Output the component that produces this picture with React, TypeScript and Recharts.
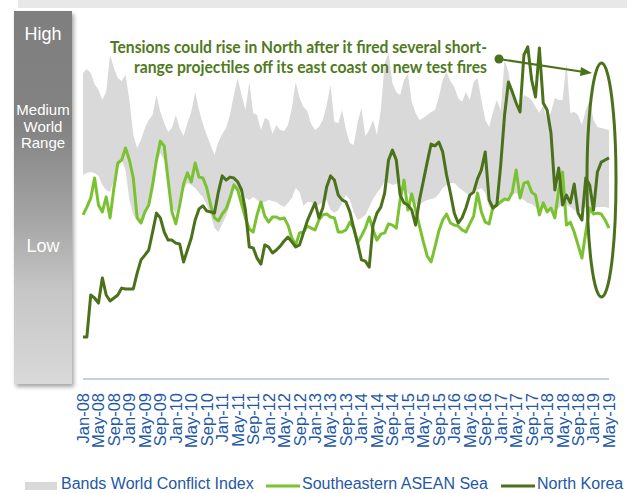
import React from 'react';
import { ComposedChart, Area, Line, XAxis, YAxis } from 'recharts';

// x axis categories: monthly, Jan-08 .. May-19
const MONTHS = ['Jan', 'Feb', 'Mar', 'Apr', 'May', 'Jun', 'Jul', 'Aug', 'Sep', 'Oct', 'Nov', 'Dec'];
const YEARS = ['08', '09', '10', '11', '12', '13', '14', '15', '16', '17', '18', '19'];
const MONTHS_IN_LAST_YEAR = 5;

// world conflict index band (lower / upper edge), one row per year
const bandLow = [
  68, 68.7, 69, 68.7, 67.7, 64.7, 63, 62.3, 66.3, 70.3, 73, 69.7,
  59.7, 54.7, 53, 52, 55.7, 58, 63, 71.3, 75.3, 73, 64, 57.3,
  55.3, 59.7, 63, 65.3, 64.7, 63.7, 62, 60.7, 58, 54.7, 50.3, 49,
  51.7, 54.3, 58, 64, 63, 62, 60.3, 59.7, 60.7, 59.7, 58.7, 59,
  59.7, 59.3, 59, 58, 57.3, 58.7, 60.3, 63.7, 62.3, 57.7, 59, 59,
  57.7, 58, 59, 59.7, 56.3, 55.3, 56.3, 58.7, 61.3, 59.7, 55.7, 53,
  53.7, 54.7, 57.3, 60, 62, 63.7, 66, 65.3, 64.7, 65, 65.7, 64.3,
  62, 59.7, 58.3, 58, 59, 59.7, 60, 60.3, 61.7, 63.7, 64.7, 65.3,
  65.3, 64, 63, 62, 61.3, 62, 63, 63.7, 62, 57.3, 56.3, 57.3,
  59, 59.7, 60.7, 61.3, 62, 60.7, 59.7, 58.7, 58.3, 57.3, 55.7, 57,
  56.7, 56.3, 55.3, 57, 58.3, 58, 57.3, 56.3, 55.3, 56.3, 57.3, 56.3,
  57, 57.3, 57.3, 57.3, 57,
];

const bandHigh = [
  102, 103.3, 102, 98.3, 96.3, 93, 95.7, 108, 103.7, 100.3, 99.3, 101.3,
  93, 81.3, 77, 79.7, 83.7, 86.3, 88, 94.7, 89, 85.3, 82.3, 83.7,
  88, 83.7, 81, 85.3, 89, 95.7, 89.7, 85, 81.3, 78, 74.7, 79,
  81.7, 83.7, 88, 94.7, 100.3, 94.7, 89.7, 99, 88.7, 88, 83, 87,
  86.3, 81.7, 84.7, 83, 82.7, 84.7, 90.3, 99, 93.7, 90.7, 89.3, 85,
  83, 84, 86.3, 91.3, 98, 85.7, 85.3, 89.7, 83, 78.7, 78, 85.7,
  90.3, 81, 83, 86.3, 81.3, 89.7, 105.3, 108.7, 98.7, 95.7, 94.7, 99.7,
  101.7, 92.3, 88.7, 86.3, 87, 88, 89, 89.7, 94, 99.7, 102.3, 99.3,
  97.3, 93.7, 92.3, 95.7, 93, 99, 100.3, 93, 86.3, 84, 89, 93,
  89.7, 106.3, 102.3, 94.7, 91.3, 89, 94.7, 94, 93, 90.7, 88.7, 91.3,
  86.3, 89, 93.7, 93, 93, 105.7, 88.7, 89, 88, 84.7, 89.7, 93,
  86.3, 84, 83.7, 83.3, 83,
];

const asean = [
  54.7, 57.3, 60.3, 67, 58, 55.7, 60.7, 53.7, 63.7, 72, 73, 77,
  73, 67, 53.7, 52, 55.7, 58, 64.7, 73, 79.3, 77.7, 66.3, 55.7,
  51.7, 58, 65, 68.7, 65.7, 72, 67.3, 67, 63.7, 58, 53.7, 52.7,
  55, 56.7, 60.3, 64.7, 63, 58.3, 53.7, 50, 49, 54.7, 59, 54.3,
  52.3, 54, 54, 53.3, 53.7, 51.3, 47, 44.7, 48.7, 49, 51, 50.3,
  49.7, 53, 54.7, 55, 54, 53.7, 49, 49, 49.7, 52.3, 50.3, 45.3,
  47.7, 50.3, 54, 49.7, 46.3, 48.3, 48.7, 51.7, 51.3, 50.3, 59.7, 66.3,
  56.3, 61.7, 56.3, 51, 45.7, 41, 39, 44, 49.3, 53, 55, 52,
  51.3, 51, 49.7, 49, 51.7, 54.3, 62, 55.7, 52.3, 51.7, 57.3, 58,
  59, 60, 59.7, 62.3, 69.7, 60.3, 65.3, 65.7, 62.3, 61.3, 54.7, 58.7,
  55.7, 57, 53.7, 63, 69, 51.3, 52.3, 49, 44.7, 40.3, 49, 57,
  55, 55.3, 55, 53, 50.3,
];

const northKorea = [
  14, 14, 28, 27, 25.3, 33.7, 28, 26, 27, 28, 30.3, 30,
  30, 30, 35.3, 39.7, 41.3, 43, 49, 55.3, 53.7, 49, 46.3, 46.3,
  45.3, 45, 39, 43, 47, 53, 56.7, 57.7, 56, 55.7, 55.3, 62.3,
  67.7, 66.3, 67.3, 67, 65.7, 63, 56.3, 44, 43.7, 40.3, 38.3, 44.7,
  44, 42, 43, 44.3, 46, 47.3, 45.7, 44, 44.7, 48.7, 52.7, 55.7,
  58.7, 53.7, 57, 64, 67.7, 66.3, 61.3, 59.7, 59, 55.7, 50.3, 45.3,
  39.7, 39.3, 37.3, 51.3, 55.3, 57.3, 62, 73, 76.3, 73, 61.3, 58.7,
  58, 56.3, 51.3, 59.7, 66, 72.3, 78.3, 77.7, 79, 75.7, 68, 62,
  55.3, 52, 53.7, 57, 61.3, 62.3, 66.7, 69.7, 75.7, 59.7, 57, 58,
  71.3, 88, 99, 95.7, 92, 89, 108, 110.7, 99.7, 94, 110.3, 92,
  89.7, 82, 63, 70.3, 58, 61.3, 58.7, 65, 55.3, 53, 67, 64.7,
  56.3, 69, 72.3, 73, 73.7,
];

const months = YEARS.flatMap((yr, yi) =>
  MONTHS.slice(0, yi === YEARS.length - 1 ? MONTHS_IN_LAST_YEAR : 12).map((m) => `${m}-${yr}`)
);

const chartData = months.map((month, i) => ({
  month,
  band: [bandLow[i], bandHigh[i]],
  asean: asean[i],
  northKorea: northKorea[i],
}));

const BLUE = '#2458a6';
const LIGHT_GREEN = '#7ac231';
const DARK_GREEN = '#4b711b';
const BAND_GREY = '#d9d9d9';
const FONT = '"Liberation Sans", Arial, sans-serif';

const MonthTick = ({ x, y, payload }: any) => {
  const ty = y + 12;
  return (
    <text
      x={x}
      y={ty}
      dy="0.36em"
      transform={`rotate(-90, ${x}, ${ty})`}
      textAnchor="end"
      fill={BLUE}
      fontSize={16.5}
      fontFamily={FONT}
    >
      {payload.value}
    </text>
  );
};

const ScaleBar: React.FC = () => (
  <div
    style={{
      position: 'absolute',
      left: 14,
      top: 11,
      width: 58,
      height: 373,
      background: 'linear-gradient(to bottom, #7f7f7f 0%, #828282 30%, #a4a4a4 55%, #c6c6c6 75%, #d9d9d9 100%)',
      boxShadow: '2px 3px 4px rgba(0,0,0,0.35)',
      color: '#fff',
      fontFamily: FONT,
      textAlign: 'center',
    }}
  >
    <div style={{ position: 'absolute', top: 12, width: '100%', fontSize: 18, lineHeight: '22px' }}>High</div>
    <div style={{ position: 'absolute', top: 91, width: '100%', fontSize: 15, lineHeight: '16.5px' }}>
      Medium
      <br />
      World
      <br />
      Range
    </div>
    <div style={{ position: 'absolute', top: 224, width: '100%', fontSize: 18, lineHeight: '22px' }}>Low</div>
  </div>
);

const Overlay: React.FC = () => (
  <svg width={627} height={493} style={{ position: 'absolute', left: 0, top: 0, pointerEvents: 'none' }}>
    <rect x={18} y={0} width={609} height={8} fill="#e8e8e8" />
    <g fontFamily="Lato, sans-serif" fontWeight={700} fontSize={17} fill="#4f7a21" textAnchor="end">
      <text x={487} y={53} textLength={377} lengthAdjust="spacingAndGlyphs">
        Tensions could rise in North after it fired several short-
      </text>
      <text x={487} y={73} textLength={353} lengthAdjust="spacingAndGlyphs">
        range projectiles off its east coast on new test fires
      </text>
    </g>
    <circle cx={499} cy={59} r={4.5} fill={DARK_GREEN} />
    <line x1={499} y1={59} x2={584} y2={72} stroke={DARK_GREEN} strokeWidth={2} />
    <polygon points="592,73 581,67 580,76" fill={DARK_GREEN} />
    <ellipse cx={601.5} cy={180} rx={14.5} ry={117} fill="none" stroke={DARK_GREEN} strokeWidth={3} />
    <g fontFamily={FONT} fontSize={16} fill={BLUE}>
      <rect x={25} y={482} width={32} height={8} fill={BAND_GREY} />
      <text x={61} y={489}>Bands World Conflict Index</text>
      <line x1={266} y1={486} x2={300} y2={486} stroke={LIGHT_GREEN} strokeWidth={3} />
      <text x={302} y={489}>Southeastern ASEAN Sea</text>
      <line x1={501} y1={486} x2={535} y2={486} stroke={DARK_GREEN} strokeWidth={3} />
      <text x={537} y={489}>North Korea</text>
    </g>
  </svg>
);

export default function App() {
  return (
    <div style={{ position: 'absolute', left: 0, top: 0, width: 627, height: 493, background: '#fff', overflow: 'hidden' }}>
      <ComposedChart width={627} height={493} data={chartData} margin={{ top: 19, right: 18, bottom: 44, left: 83 }}>
        <XAxis
          dataKey="month"
          interval={3}
          tick={<MonthTick />}
          tickLine={false}
          tickSize={0}
          height={70}
          axisLine={{ stroke: '#8a9cc6', strokeWidth: 1 }}
        />
        <YAxis hide domain={[0, 120]} />
        <Area
          type="linear"
          dataKey="band"
          fill={BAND_GREY}
          fillOpacity={1}
          stroke="none"
          isAnimationActive={false}
        />
        <Line
          type="linear"
          dataKey="asean"
          stroke={LIGHT_GREEN}
          strokeWidth={3}
          dot={false}
          strokeLinejoin="round"
          isAnimationActive={false}
        />
        <Line
          type="linear"
          dataKey="northKorea"
          stroke={DARK_GREEN}
          strokeWidth={3}
          dot={false}
          strokeLinejoin="round"
          isAnimationActive={false}
        />
      </ComposedChart>
      <ScaleBar />
      <Overlay />
    </div>
  );
}
